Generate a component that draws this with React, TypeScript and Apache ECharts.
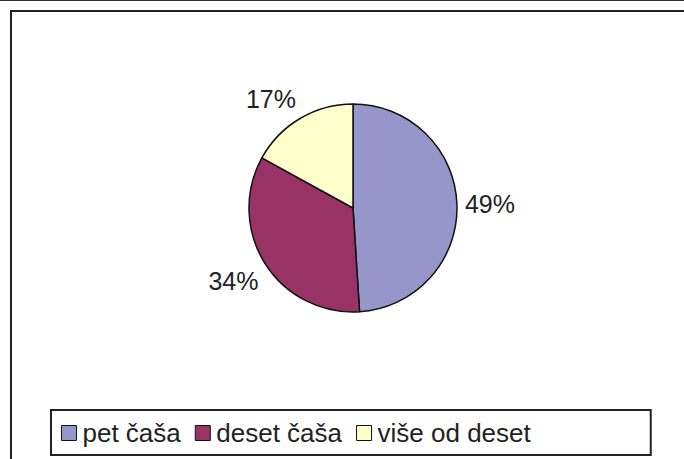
import React, { useEffect, useRef } from "react";
import * as echarts from "echarts";

const categories = ["pet čaša", "deset čaša", "više od deset"];
const values = [49, 34, 17];
const colors = ["#9696CA", "#993366", "#FFFFCC"];

export default function App() {
  const ref = useRef<HTMLDivElement>(null);
  useEffect(() => {
    if (!ref.current) return;
    const chart = echarts.init(ref.current, null, { renderer: "svg" });
    const font = "'Liberation Sans', Arial, sans-serif";
    chart.setOption({
      animation: false,
      backgroundColor: "#ffffff",
      textStyle: { fontFamily: font },
      graphic: [
        { type: "line", shape: { x1: 0, y1: 0.5, x2: 684, y2: 0.5 }, style: { stroke: "#333", lineWidth: 1 } },
        { type: "rect", shape: { x: 11, y: 11, width: 700, height: 480 }, style: { fill: "none", stroke: "#222", lineWidth: 2 } },
      ],
      legend: {
        data: categories,
        left: 51,
        top: 410,
        padding: [10, 120, 9, 10],
        borderColor: "#222",
        borderWidth: 2,
        itemGap: 14,
        itemWidth: 15,
        itemHeight: 15,
        icon: "rect",
        itemStyle: { borderColor: "#111", borderWidth: 1 },
        textStyle: { fontFamily: font, fontSize: 26, color: "#222", padding: [0, 0, 0, 1] },
      },
      series: [
        {
          type: "pie",
          center: [353, 208],
          radius: 104,
          startAngle: 90,
          clockwise: true,
          data: categories.map((name, i) => ({ name, value: values[i], itemStyle: { color: colors[i] } })),
          itemStyle: { borderColor: "#111", borderWidth: 1.5 },
          label: {
            show: true,
            position: "outside",
            formatter: "{c}%",
            fontFamily: font,
            fontSize: 25,
            color: "#222",
            distanceToLabelLine: 0,
          },
          labelLine: { show: false, length: 8, length2: 0 },
          labelLayout: (params: any) => {
            const pts = params.labelLinePoints;
            if (!pts) return {};
            const sy = (pts[1][1] - pts[0][1]) / 8;
            if (Math.abs(sy) < 0.3) return {};
            return { dy: Math.sign(sy) * params.labelRect.height * 0.5 };
          },
          emphasis: { disabled: true },
        },
      ],
    });
    return () => chart.dispose();
  }, []);
  return <div ref={ref} style={{ position: "fixed", left: 0, top: 0, width: 684, height: 459 }} />;
}
